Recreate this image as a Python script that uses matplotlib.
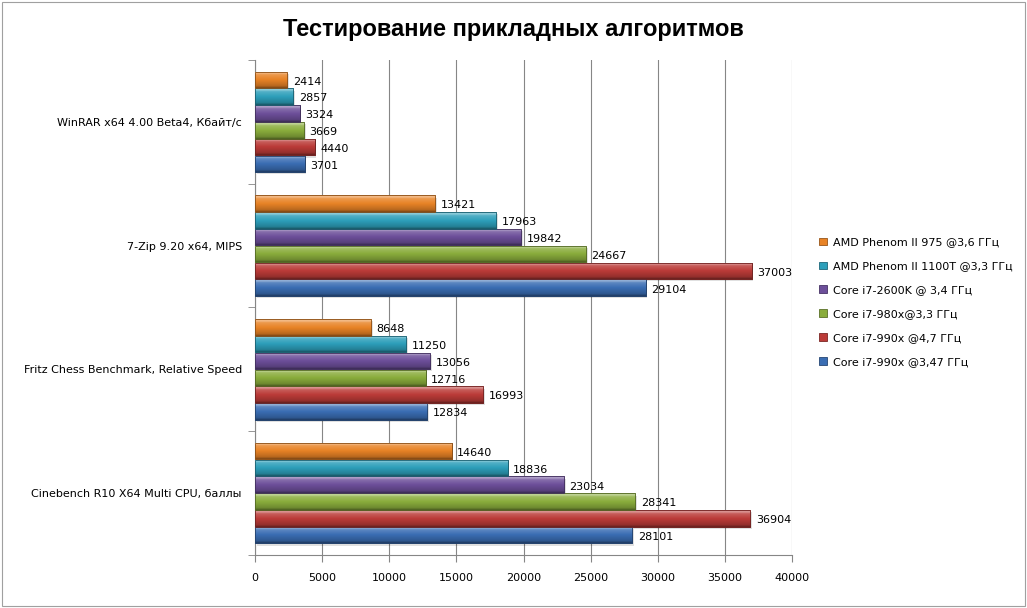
import matplotlib
matplotlib.use("Agg")
import matplotlib.pyplot as plt
import numpy as np
from matplotlib.colors import to_rgb
from matplotlib.patches import Rectangle

categories = ["Cinebench R10 X64 Multi CPU, баллы",
              "Fritz Chess Benchmark, Relative Speed",
              "7-Zip 9.20 x64, MIPS",
              "WinRAR x64 4.00 Beta4, Кбайт/с"]

series_names = ["Core i7-990x @3,47 ГГц",
                "Core i7-990x @4,7 ГГц",
                "Core i7-980x@3,3 ГГц",
                "Core i7-2600K @ 3,4 ГГц",
                "AMD Phenom II 1100T @3,3 ГГц",
                "AMD Phenom II 975 @3,6 ГГц"]

i7_990x_347 = [28101, 12834, 29104, 3701]
i7_990x_47 = [36904, 16993, 37003, 4440]
i7_980x = [28341, 12716, 24667, 3669]
i7_2600k = [23034, 13056, 19842, 3324]
phenom_1100t = [18836, 11250, 17963, 2857]
phenom_975 = [14640, 8648, 13421, 2414]

series_values = [i7_990x_347, i7_990x_47, i7_980x, i7_2600k, phenom_1100t, phenom_975]
colors = ["#3a6db3", "#bb3b38", "#8aad3c", "#6d4f9a", "#2d9fba", "#e88326"]

x_ticks = [0, 5000, 10000, 15000, 20000, 25000, 30000, 35000, 40000]

plt.rcParams['font.family'] = ['DejaVu Sans']

fig = plt.figure(figsize=(10.27, 6.08), dpi=100)
ax = fig.add_axes([0.2483, 0.0872, 0.5229, 0.8141])

n = len(series_values)
h = 0.136
ypos = np.arange(len(categories))


def shade(c, f):
    c = np.array(to_rgb(c))
    if f >= 0:
        return c + (1 - c) * f
    return c * (1 + f)


handles = []
for j, (vals, col) in enumerate(zip(series_values, colors)):
    offs = ypos + (j - (n - 1) / 2) * h
    bars = ax.barh(offs, vals, height=h * 0.98, color=col, edgecolor=shade(col, -0.35),
                   linewidth=0.6, zorder=3, label=series_names[j])
    handles.append(bars)
    stops = np.array([0.0, 0.12, 0.5, 0.8, 0.92, 1.0])
    cols = np.array([shade(col, -0.45), shade(col, -0.2), shade(col, 0.0),
                     shade(col, 0.18), shade(col, 0.5), shade(col, 0.3)])
    t = np.linspace(0, 1, 32)
    grad = np.stack([np.interp(t, stops, cols[:, k]) for k in range(3)], axis=-1)
    grad = grad[::-1, None, :]
    for p, v in zip(bars.patches, vals):
        x0, y0 = p.get_x(), p.get_y()
        w, hh = p.get_width(), p.get_height()
        ax.add_patch(Rectangle((x0 + 120, y0 - 0.018), w, hh, facecolor="#000000",
                               alpha=0.12, edgecolor="none", zorder=2.5))
        im = ax.imshow(grad, extent=[x0, x0 + w, y0, y0 + hh], aspect='auto',
                       zorder=3.5, interpolation='bilinear')
        im.set_clip_path(p)
        ax.add_patch(Rectangle((x0, y0), w, hh, facecolor="none",
                               edgecolor=shade(col, -0.4), linewidth=0.6, zorder=3.6))
        ax.text(v + 400, y0 + hh / 2 - 0.015, f"{v}", va='center', ha='left',
                fontsize=8, color="#000000", zorder=5)

ax.set_xlim(0, 40000)
ax.set_ylim(-0.5, len(categories) - 0.5)
ax.set_xticks(x_ticks)
ax.set_xticklabels([str(v) for v in x_ticks], fontsize=8)
ax.set_yticks(ypos)
ax.set_yticklabels(categories, fontsize=8)
ax.tick_params(axis='y', length=0, pad=9.5)
ax.set_yticks(np.arange(-0.5, len(categories), 1.0), minor=True)
ax.tick_params(axis='y', which='minor', length=5, direction='out', color="#868686", left=True)
ax.tick_params(axis='x', length=5, direction='out', color="#868686", pad=8)

ax.grid(axis='x', color="#868686", linewidth=0.8, zorder=0)
ax.set_axisbelow(True)
for s in ['top', 'right']:
    ax.spines[s].set_visible(False)
for s in ['left', 'bottom']:
    ax.spines[s].set_color("#868686")
    ax.spines[s].set_linewidth(0.8)

fig.text(0.5, 0.952, "Тестирование прикладных алгоритмов", ha='center', va='center',
         fontsize=17, fontweight='bold', family='Liberation Sans')

leg = fig.legend(handles=handles[::-1], labels=series_names[::-1], loc='center left',
                 bbox_to_anchor=(0.788, 0.503), frameon=False, fontsize=8,
                 handlelength=0.7, handleheight=0.7, labelspacing=1.25, handletextpad=0.5)

fig.add_artist(Rectangle((0.002, 0.003), 0.996, 0.994, transform=fig.transFigure,
                         facecolor='none', edgecolor="#a0a0a0", linewidth=0.8))

fig.savefig("out.png", dpi=100)
